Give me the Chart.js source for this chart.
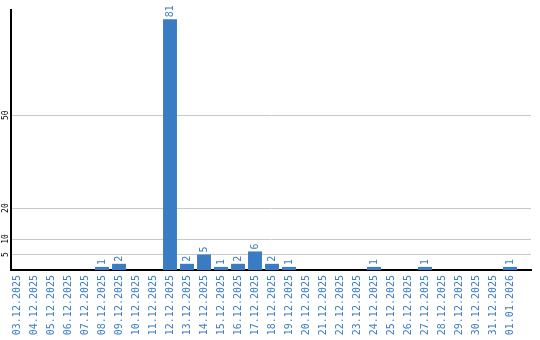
<!DOCTYPE html>
<html>
<head>
<meta charset="utf-8">
<script src="https://cdn.jsdelivr.net/npm/chart.js@4"></script>
<style>
  body { margin: 0; background: #fff; }
  #wrap { width: 540px; height: 340px; }
</style>
</head>
<body>
<div id="wrap"><canvas id="chart"></canvas></div>
<script>
const days = ['03.12.2025', '04.12.2025', '05.12.2025', '06.12.2025', '07.12.2025', '08.12.2025',
    '09.12.2025', '10.12.2025', '11.12.2025', '12.12.2025', '13.12.2025', '14.12.2025',
    '15.12.2025', '16.12.2025', '17.12.2025', '18.12.2025', '19.12.2025', '20.12.2025',
    '21.12.2025', '22.12.2025', '23.12.2025', '24.12.2025', '25.12.2025', '26.12.2025',
    '27.12.2025', '28.12.2025', '29.12.2025', '30.12.2025', '31.12.2025', '01.01.2026']
const counts = [0, 0, 0, 0, 0, 1, 2, 0, 0, 81, 2, 5, 1, 2, 6, 2, 1, 0, 0, 0, 0, 1, 0, 0, 1, 0, 0, 0, 0, 1]
const yTicks = [5, 10, 20, 50]

const blue = '#3a7cc4'
const mono = '"DejaVu Sans Mono", monospace'

// numbers above the bars, rotated
const valueLabels = {
    id: 'valueLabels',
    afterDatasetsDraw(chart) {
        const ctx = chart.ctx
        const meta = chart.getDatasetMeta(0)
        ctx.save()
        ctx.fillStyle = blue
        ctx.font = '10px ' + mono
        ctx.textAlign = 'left'
        ctx.textBaseline = 'middle'
        meta.data.forEach((bar, i) => {
            if (!counts[i]) return
            ctx.save()
            ctx.translate(bar.x, bar.y - 2)
            ctx.rotate(-Math.PI / 2)
            ctx.fillText(String(counts[i]), 0, 0)
            ctx.restore()
        })
        ctx.restore()
    }
}

// y tick labels, rotated like the x labels
const yLabels = {
    id: 'yLabels',
    afterDraw(chart) {
        const ctx = chart.ctx
        const y = chart.scales.y
        ctx.save()
        ctx.fillStyle = '#000'
        ctx.font = '8px ' + mono
        ctx.textAlign = 'center'
        ctx.textBaseline = 'middle'
        yTicks.forEach(v => {
            ctx.save()
            ctx.translate(5.5, y.getPixelForValue(v))
            ctx.rotate(-Math.PI / 2)
            ctx.fillText(String(v), 0, 0)
            ctx.restore()
        })
        ctx.restore()
    }
}

new Chart(document.getElementById('chart'), {
    type: 'bar',
    data: {
        labels: days,
        datasets: [{
            data: counts,
            backgroundColor: blue,
            borderWidth: 0,
            categoryPercentage: 1,
            barPercentage: 0.82
        }]
    },
    options: {
        responsive: true,
        maintainAspectRatio: false,
        animation: false,
        layout: { padding: { top: 10, right: 9, left: 0, bottom: 0 } },
        plugins: { legend: { display: false }, tooltip: { enabled: false } },
        scales: {
            x: {
                grid: { display: false, drawTicks: false },
                border: { display: true, color: '#000', width: 2 },
                ticks: {
                    autoSkip: false,
                    minRotation: 90,
                    maxRotation: 90,
                    padding: 5,
                    color: blue,
                    font: { family: mono, size: 10 }
                },
                afterFit(scale) { scale.height = 70 },
                // categories are 17px wide and leave empty room on the right
                afterBuildTicks(scale) {
                    scale._startValue = -6 / 17
                    scale._valueRange = 520 / 17
                }
            },
            y: {
                min: 0,
                max: 84,
                grid: { color: '#c8c8c8', lineWidth: 1, drawTicks: false },
                border: { display: true, color: '#000', width: 2 },
                ticks: { display: false },
                afterBuildTicks(scale) { scale.ticks = yTicks.map(v => ({ value: v })) },
                afterFit(scale) { scale.width = 11 }
            }
        }
    },
    plugins: [valueLabels, yLabels]
})
</script>
</body>
</html>
